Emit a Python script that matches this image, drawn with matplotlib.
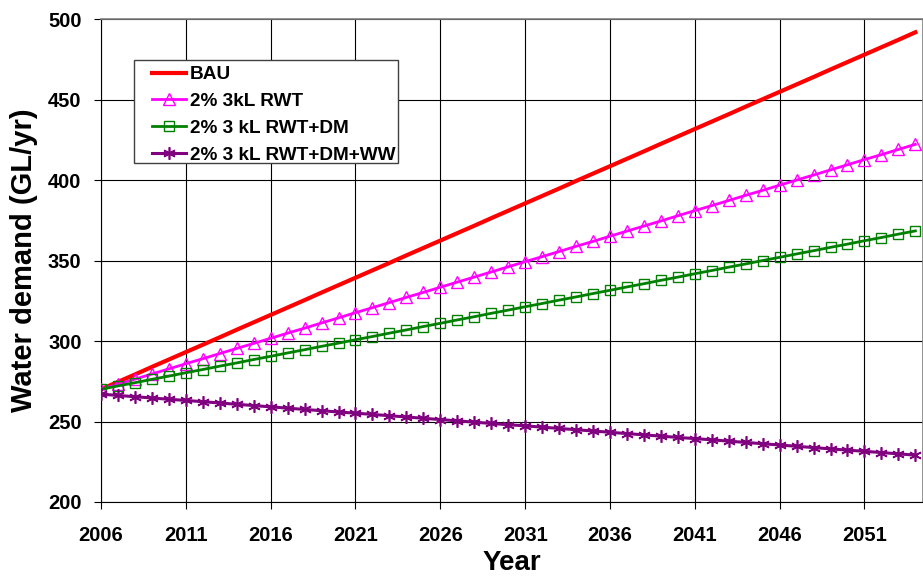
import matplotlib.pyplot as plt
from matplotlib.patches import Rectangle
import numpy as np

plt.rcParams['font.family'] = ['Liberation Sans', 'DejaVu Sans']

years = np.arange(2006, 2055)

bau = [270.0, 274.6, 279.2, 283.9, 288.5, 293.1, 297.7, 302.3, 307.0, 311.6,
       316.2, 320.8, 325.4, 330.1, 334.7, 339.3, 343.9, 348.5, 353.2, 357.8,
       362.4, 367.0, 371.6, 376.3, 380.9, 385.5, 390.1, 394.7, 399.4, 404.0,
       408.6, 413.2, 417.8, 422.5, 427.1, 431.7, 436.3, 440.9, 445.6, 450.2,
       454.8, 459.4, 464.0, 468.7, 473.3, 477.9, 482.5, 487.1, 491.8]

rwt = [270.0, 273.2, 276.3, 279.5, 282.7, 285.9, 289.0, 292.2, 295.4, 298.5,
       301.7, 304.9, 308.0, 311.2, 314.4, 317.6, 320.7, 323.9, 327.1, 330.2,
       333.4, 336.6, 339.7, 342.9, 346.1, 349.3, 352.4, 355.6, 358.8, 361.9,
       365.1, 368.3, 371.4, 374.6, 377.8, 381.0, 384.1, 387.3, 390.5, 393.6,
       396.8, 400.0, 403.1, 406.3, 409.5, 412.7, 415.8, 419.0, 422.2]

rwt_dm = [270.0, 272.1, 274.1, 276.2, 278.2, 280.3, 282.3, 284.4, 286.4, 288.5,
          290.5, 292.6, 294.6, 296.7, 298.7, 300.8, 302.8, 304.9, 306.9, 309.0,
          311.0, 313.1, 315.1, 317.2, 319.2, 321.3, 323.3, 325.4, 327.4, 329.5,
          331.5, 333.6, 335.6, 337.7, 339.7, 341.8, 343.8, 345.9, 347.9, 350.0,
          352.0, 354.1, 356.1, 358.2, 360.2, 362.3, 364.3, 366.4, 368.4]

rwt_dm_ww = [267.0, 266.2, 265.4, 264.6, 263.8, 263.1, 262.3, 261.5, 260.7, 259.9,
             259.1, 258.3, 257.5, 256.7, 255.9, 255.2, 254.4, 253.6, 252.8, 252.0,
             251.2, 250.4, 249.6, 248.8, 248.0, 247.3, 246.5, 245.7, 244.9, 244.1,
             243.3, 242.5, 241.7, 240.9, 240.1, 239.4, 238.6, 237.8, 237.0, 236.2,
             235.4, 234.6, 233.8, 233.0, 232.2, 231.5, 230.7, 229.9, 229.1]

labels = ["BAU", "2% 3kL RWT", "2% 3 kL RWT+DM", "2% 3 kL RWT+DM+WW"]
x_ticks = np.arange(2006, 2055, 5)
y_ticks = np.arange(200, 501, 50)

fig = plt.figure(figsize=(9.23, 5.78), dpi=100)
ax = fig.add_axes([0.1094, 0.1315, 0.8906, 0.8355])

ax.plot(years, bau, color="#ff0000", linewidth=3.0, label=labels[0], zorder=3)
ax.plot(years, rwt, color="#ff00ff", linewidth=2.0, marker="^", markersize=8.5,
        markerfacecolor="none", markeredgewidth=1.0, label=labels[1], zorder=4)
ax.plot(years, rwt_dm, color="#008000", linewidth=2.0, marker="s", markersize=7.5,
        markerfacecolor="none", markeredgewidth=1.0, label=labels[2], zorder=5)
ax.plot(years, rwt_dm_ww, color="#800080", linewidth=2.2, marker=(6, 2, 0), markersize=9,
        markeredgewidth=1.2, label=labels[3], zorder=6)

ax.set_xlim(2006, 2054.45)
ax.set_ylim(200, 500)
ax.set_xticks(x_ticks)
ax.set_yticks(y_ticks)
ax.grid(True, color="black", linewidth=0.8)
ax.set_axisbelow(True)
ax.tick_params(direction="out", length=5, width=0.8, labelsize=14.5)
ax.tick_params(axis="x", pad=12)
ax.tick_params(axis="y", pad=9)
for lab in ax.get_xticklabels() + ax.get_yticklabels():
    lab.set_fontweight("bold")

for side in ["left", "bottom"]:
    ax.spines[side].set_color("black")
    ax.spines[side].set_linewidth(0.8)
for side in ["top", "right"]:
    ax.spines[side].set_color("#808080")
    ax.spines[side].set_linewidth(1.2)

ax.set_xlabel("Year", fontsize=20, fontweight="bold", labelpad=4)
ax.set_ylabel("Water demand (GL/yr)", fontsize=21, fontweight="bold", labelpad=7)

# legend box drawn by hand: Excel pads the sides more than top and bottom
ax.add_patch(Rectangle((0.0401, 0.7019), 0.3212, 0.2132, transform=ax.transAxes,
                       facecolor="white", edgecolor="#404040", linewidth=1.0, zorder=9))
leg = ax.legend(loc="upper left", bbox_to_anchor=(0.062, 0.903), prop={"size": 13.7, "weight": "bold"},
                frameon=False, borderpad=0, labelspacing=0.5,
                handlelength=1.8, handletextpad=0.2, borderaxespad=0)
leg.set_zorder(10)

fig.savefig("out.png", dpi=100)
